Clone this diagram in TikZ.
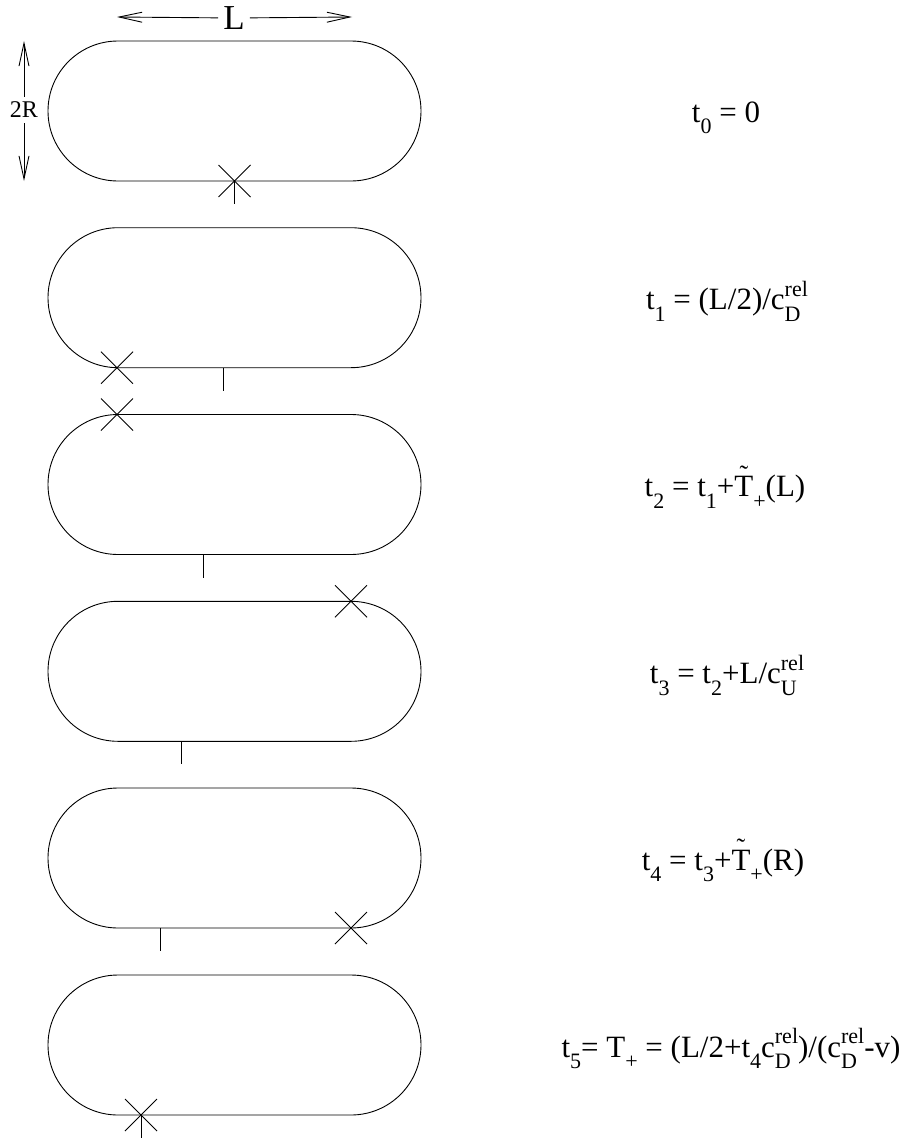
\documentclass[tikz,border=0pt]{standalone}
\usepackage{fontspec}
\setmainfont{Liberation Serif}
\usetikzlibrary{shapes.misc,arrows.meta}
\newcommand{\lo}[1]{\raisebox{-0.38em}{\fontsize{22}{22}\selectfont #1}}
\newcommand{\hi}[1]{\raisebox{0.42em}{\fontsize{22}{22}\selectfont #1}}
\newcommand{\lohi}[2]{\rlap{\lo{#1}}\hi{#2}}
\newcommand{\Tt}{\ooalign{T\cr\hidewidth\raisebox{0.42em}{\fontsize{26}{26}\selectfont\char"02DC}\hidewidth\cr}}
\begin{document}
\begin{tikzpicture}[x=1pt,y=-1pt,
  stadium/.style={rounded rectangle, draw, minimum width=373pt, minimum height=140pt, inner sep=0pt, line width=0.9pt},
  xmark/.style={cross out, draw, minimum size=32pt, inner sep=0pt, outer sep=0pt, line width=0.9pt},
  tick/.style={line width=0.9pt},
  arr/.style={-{Straight Barb[length=23pt,width=10pt]}, line width=0.9pt},
  lab/.style={font=\fontsize{31}{36}\selectfont, anchor=base, inner sep=0pt}]
\useasboundingbox (0,0) rectangle (914,1140);
% dimension arrows
\coordinate (Lleft) at (117,17);
\coordinate (Lright) at (352,17);
\node[font=\fontsize{35}{35}\selectfont, inner sep=5pt] (Llab) at (234,18) {L};
\draw[arr] (Llab) -- (Lleft);
\draw[arr] (Llab) -- (Lright);
\coordinate (Rtop) at (24,41);
\coordinate (Rbot) at (24,181);
\node[font=\fontsize{24}{24}\selectfont, inner sep=0pt, minimum height=26pt] (Rlab) at (24,110) {2R};
\draw[arr] (Rlab) -- (Rtop);
\draw[arr] (Rlab) -- (Rbot);
% stadiums
\node[stadium] (s1) at (234.5,111) {};
\node[stadium] (s2) at (234.5,297.7) {};
\node[stadium] (s3) at (234.5,484.5) {};
\node[stadium] (s4) at (234.5,671.3) {};
\node[stadium] (s5) at (234.5,858) {};
\node[stadium] (s6) at (234.5,1045) {};
% crosses
\node[xmark] (c1) at (234.5,181) {};
\node[xmark] (c2) at (117,367.7) {};
\node[xmark] (c3) at (117,414.5) {};
\node[xmark] (c4) at (351,601.3) {};
\node[xmark] (c5) at (351,928) {};
\node[xmark] (c6) at (141,1115) {};
% ticks
\draw[tick] (c1.center) -- ++(0,23);
\coordinate (k2) at (223,367.7);
\coordinate (k3) at (203,554.5);
\coordinate (k4) at (181,741.3);
\coordinate (k5) at (160,928);
\draw[tick] (k2) -- ++(0,23);
\draw[tick] (k3) -- ++(0,23);
\draw[tick] (k4) -- ++(0,23);
\draw[tick] (k5) -- ++(0,23);
\draw[tick] (c6.center) -- ++(0,23);
% labels
\node[lab] (l0) at (726,122) {t\lo{0} = 0};
\node[lab] (l1) at (727,309.7) {t\lo{1} = (L/2)/c\lohi{D}{rel}};
\node[lab] (l2) at (725,496.5) {t\lo{2} = t\lo{1}+\Tt\lo{+}(L)};
\node[lab] (l3) at (727,683.3) {t\lo{3} = t\lo{2}+L/c\lohi{U}{rel}};
\node[lab] (l4) at (723,870) {t\lo{4} = t\lo{3}+\Tt\lo{+}(R)};
\node[lab] (l5) at (731,1057) {t\lo{5}= T\lo{+} = (L/2+t\lo{4}c\lohi{D}{rel})/(c\lohi{D}{rel}-v)};
\end{tikzpicture}
\end{document}
